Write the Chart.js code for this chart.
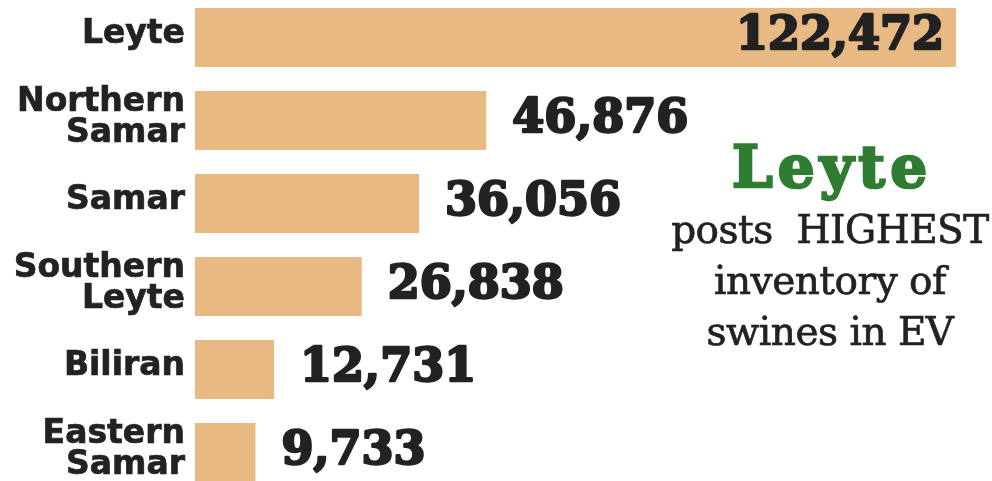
<!DOCTYPE html>
<html>
<head>
<meta charset="utf-8">
<script src="https://cdn.jsdelivr.net/npm/chart.js@4"></script>
<style>
  html, body { margin: 0; padding: 0; background: #fff; }
  body { width: 992px; height: 481px; overflow: hidden; position: relative; }
  #wrap { position: absolute; left: 0; top: -4px; width: 992px; height: 498px; }
  #note {
    position: absolute; left: 666px; width: 328px; top: 130px;
    text-align: center; color: #222;
    font-family: 'DejaVu Serif', serif; font-size: 39px; line-height: 51px;
    -webkit-text-stroke: 0.7px #222; letter-spacing: -0.5px;
  }
  #note .big {
    color: #2e7d32; font-weight: bold; font-size: 58px; line-height: 74px;
    -webkit-text-stroke: 2.5px #2e7d32; letter-spacing: 5px;
    display: block; padding-left: 4px;
  }
</style>
</head>
<body>
<div id="wrap"><canvas id="swineChart"></canvas></div>
<div id="note"><span class="big">Leyte</span>posts&nbsp; HIGHEST<br>inventory of<br>swines in EV</div>
<script>
// swine inventory by province
const provinces = [['Leyte'], ['Northern', 'Samar'], ['Samar'], ['Southern', 'Leyte'], ['Biliran'], ['Eastern', 'Samar']];
const swineCounts = [122472, 46876, 36056, 26838, 12731, 9733];

const barColor = '#e8b983';
const textColor = '#222222';

// draws the big numbers next to (or inside) each bar
const valueLabels = {
	id: 'valueLabels',
	afterDatasetsDraw(chart) {
		const ctx = chart.ctx;
		const meta = chart.getDatasetMeta(0);
		const maxVal = Math.max(...swineCounts);
		ctx.save();
		ctx.font = 'bold 46px "DejaVu Serif", serif';
		ctx.fillStyle = textColor;
		ctx.strokeStyle = textColor;
		ctx.lineWidth = 2.5;
		ctx.lineJoin = 'round';
		ctx.textBaseline = 'middle';
		meta.data.forEach(function(bar, i) {
			const txt = swineCounts[i].toLocaleString('en-US');
			let x;
			if (swineCounts[i] === maxVal) {
				ctx.textAlign = 'right';
				x = bar.x - 12;
			} else {
				ctx.textAlign = 'left';
				x = bar.x + 26;
			}
			ctx.fillText(txt, x, bar.y);
			ctx.strokeText(txt, x, bar.y);
		});
		ctx.restore();
	}
};

const ctx = document.getElementById('swineChart').getContext('2d');
const chart = new Chart(ctx, {
	type: 'bar',
	data: {
		labels: provinces,
		datasets: [{
			data: swineCounts,
			backgroundColor: barColor,
			borderWidth: 0,
			categoryPercentage: 1,
			barPercentage: 0.71
		}]
	},
	options: {
		indexAxis: 'y',
		responsive: true,
		maintainAspectRatio: false,
		animation: false,
		layout: { padding: { left: 0, right: 36, top: 0, bottom: 0 } },
		plugins: {
			legend: { display: false },
			tooltip: { enabled: false }
		},
		scales: {
			x: {
				display: false,
				min: 0,
				max: Math.max(...swineCounts)
			},
			y: {
				grid: { display: false, drawTicks: false },
				border: { display: false },
				ticks: {
					color: textColor,
					textStrokeColor: textColor,
					textStrokeWidth: 0.7,
					padding: 10,
					labelOffset: -3,
					font: { family: 'DejaVu Sans', size: 33, weight: 'bold', lineHeight: 0.94 }
				},
				afterFit: function(scale) {
					scale.width = 195;
					scale.paddingTop = 0;
					scale.paddingBottom = 0;
				}
			}
		}
	},
	plugins: [valueLabels]
});
</script>
</body>
</html>
